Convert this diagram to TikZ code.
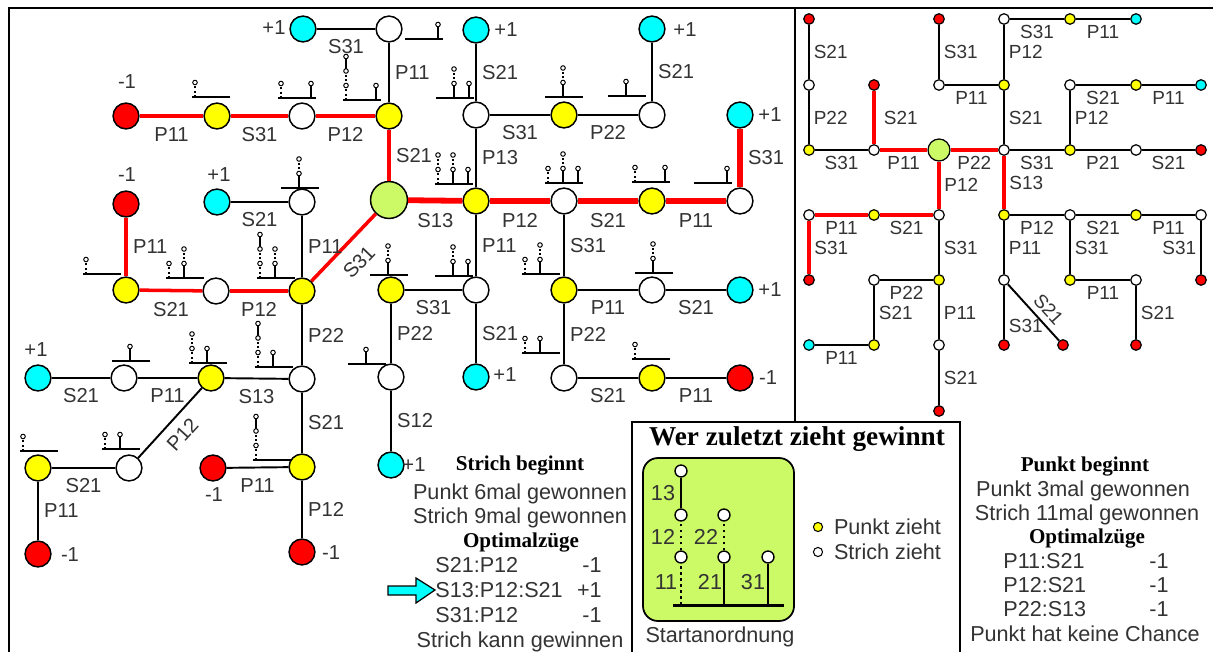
\documentclass[tikz,border=0pt]{standalone}
\usepackage{fontspec}
\setmainfont{Liberation Sans}
\newfontfamily\timesfont{Liberation Serif}
\usetikzlibrary{positioning}

\definecolor{rot}{RGB}{255,0,0}
\definecolor{gelb}{RGB}{255,255,0}
\definecolor{tuerkis}{RGB}{0,255,255}
\definecolor{hellgruen}{RGB}{204,250,102}
\definecolor{schrift}{RGB}{51,51,51}

\tikzset{
  kn/.style={circle, draw=black, line width=0.85pt, minimum size=14.7pt, inner sep=0pt},
  kw/.style={kn, fill=white}, ky/.style={kn, fill=gelb},
  kr/.style={kn, fill=rot}, kc/.style={kn, fill=tuerkis},
  kg/.style={kn, fill=hellgruen, minimum size=21pt},
  pn/.style={circle, draw=black, line width=0.7pt, minimum size=6pt, inner sep=0pt},
  pw/.style={pn, fill=white}, py/.style={pn, fill=gelb},
  pr/.style={pn, fill=rot}, pc/.style={pn, fill=tuerkis},
  pg/.style={pn, fill=hellgruen, minimum size=12.5pt},
  kante/.style={line width=1.1pt},
  rotkante/.style={draw=rot, line width=2pt},
  rotdick/.style={draw=rot, line width=3.3pt},
  pk/.style={line width=1.1pt},
  prot/.style={draw=rot, line width=1.8pt},
  lab/.style={font=\fontsize{11.5}{13}\selectfont, text=schrift, inner sep=1.5pt},
  lu/.style={lab, below=4pt}, lr/.style={lab, right=1.5pt},
  slab/.style={font=\fontsize{10.8}{12}\selectfont, text=schrift, inner sep=1.2pt},
  su/.style={slab, below=1.7pt}, sr/.style={slab, right=1pt}, sl/.style={slab, left=1pt},
  txt/.style={font=\fontsize{12.3}{14}\selectfont, text=schrift, inner sep=0pt},
  titel/.style={font=\timesfont\bfseries\fontsize{12}{14}\selectfont, inner sep=0pt},
  basis/.style={line width=1.4pt},
  strich/.style={line width=0.75pt},
  punkt/.style={line width=1pt, dash pattern=on 1pt off 1.5pt},
  knopf/.style={draw=black, fill=white, line width=0.55pt},
  rahmen/.style={line width=1.5pt}
}

% base left end at (#1,#2); pieces left in columns 1, 2, 3
\newcommand{\stellung}[5]{%
  \begin{scope}[shift={(#1,#2)}]
    \ifnum#3>0 \draw[punkt] (3,0) -- (3,-14.5); \fi
    \ifnum#3>1 \draw[punkt] (3,-14.5) -- (3,-29); \fi
    \ifnum#3>2 \draw[strich] (3,-29) -- (3,-43.5); \fi
    \ifnum#4>0 \draw[strich] (18,0) -- (18,-14.5); \fi
    \ifnum#4>1 \draw[punkt] (18,-14.5) -- (18,-29); \fi
    \ifnum#5>0 \draw[strich] (33,0) -- (33,-14.5); \fi
    \draw[basis] (0,0) -- (38,0);
    \ifnum#3>0 \draw[knopf] (3,-14.5) circle[radius=1.3pt]; \fi
    \ifnum#3>1 \draw[knopf] (3,-29) circle[radius=1.3pt]; \fi
    \ifnum#3>2 \draw[knopf] (3,-43.5) circle[radius=1.3pt]; \fi
    \ifnum#4>0 \draw[knopf] (18,-14.5) circle[radius=1.3pt]; \fi
    \ifnum#4>1 \draw[knopf] (18,-29) circle[radius=1.3pt]; \fi
    \ifnum#5>0 \draw[knopf] (33,-14.5) circle[radius=1.3pt]; \fi
  \end{scope}}

\begin{document}
\begin{tikzpicture}[x=0.02cm, y=-0.02cm]
\useasboundingbox (0,0) rectangle (1213,652);
\draw[rahmen] (9,652) -- (9,8) -- (1213,8);
\draw[rahmen] (795,8) -- (795,422);

% left tree
\node[kg] (g0) at (389,200) {};
\node[ky] (y1) at (389,116) {};
\node[kw] (w1) at (302,116) {};
\node[ky] (y2) at (217,116) {};
\node[kr] (r1) at (126,116) {};
\node[kw] (w2) at (389,29) {};
\node[kc] (c1) at (303,29) {};
\node[kw] (w3) at (302,202) {};
\node[kc] (c2) at (217,202) {};
\node[kr] (r2) at (126,204) {};
\node[ky] (y3) at (302,291) {};
\node[kw] (w4) at (216,291) {};
\node[ky] (y4) at (126,290) {};
\node[kw] (w5) at (302,379) {};
\node[ky] (y5) at (211,378) {};
\node[kw] (w6) at (124,378) {};
\node[kc] (c3) at (38,378) {};
\node[kw] (w7) at (129,468) {};
\node[ky] (y6) at (38,468) {};
\node[kr] (r3) at (38,554) {};
\node[ky] (y7) at (302,467) {};
\node[kr] (r4) at (213,468) {};
\node[kr] (r5) at (302,552) {};
\node[ky] (y8) at (476,201) {};
\node[kw] (w8) at (476,115) {};
\node[kc] (c4) at (476,30) {};
\node[ky] (y9) at (564,115) {};
\node[kw] (w9) at (652,115) {};
\node[kc] (c5) at (652,29) {};
\node[kw] (w10) at (564,201) {};
\node[ky] (y10) at (652,201) {};
\node[kw] (w11) at (740,201) {};
\node[kc] (c6) at (740,115) {};
\node[kw] (w12) at (476,290) {};
\node[kc] (c7) at (476,377) {};
\node[ky] (y11) at (391,290) {};
\node[kw] (w13) at (391,377) {};
\node[kc] (c8) at (391,465) {};
\node[ky] (y12) at (564,290) {};
\node[kw] (w14) at (652,290) {};
\node[kc] (c9) at (740,290) {};
\node[kw] (w15) at (564,378) {};
\node[ky] (y13) at (652,378) {};
\node[kr] (r6) at (740,378) {};

\draw[rotkante] (r1) -- node[lu] {P11} (y2);
\draw[rotkante] (y2) -- node[lu] {S31} (w1);
\draw[rotkante] (w1) -- node[lu] {P12} (y1);
\draw[rotkante] (y1) -- node[lr] {S21} (g0);
\draw[rotkante] (r2) -- node[lr] {P11} (y4);
\draw[rotkante] (y4) -- node[lu] {S21} (w4);
\draw[rotkante] (w4) -- node[lu] {P12} (y3);
\draw[rotkante] (y3) -- node[lab, sloped, below=5.5pt] {S31} (g0);
\draw[rotdick] (g0) -- node[lu] {S13} (y8);
\draw[rotdick] (y8) -- node[lu] {P12} (w10);
\draw[rotdick] (w10) -- node[lu] {S21} (y10);
\draw[rotdick] (y10) -- node[lu] {P11} (w11);
\draw[rotdick] (w11) -- node[lr] {S31} (c6);
\draw[kante] (c1) -- node[lu] {S31} (w2);
\draw[kante] (w2) -- node[lr] {P11} (y1);
\draw[kante] (c2) -- node[lu] {S21} (w3);
\draw[kante] (w3) -- node[lr] {P11} (y3);
\draw[kante] (y3) -- node[lr] {P22} (w5);
\draw[kante] (c3) -- node[lu] {S21} (w6);
\draw[kante] (w6) -- node[lu] {P11} (y5);
\draw[kante] (y5) -- node[lu] {S13} (w5);
\draw[kante] (w7) -- node[lab, sloped, below=3.5pt] {P12} (y5);
\draw[kante] (y6) -- node[lu] {S21} (w7);
\draw[kante] (y6) -- node[lr] {P11} (r3);
\draw[kante] (w5) -- node[lr] {S21} (y7);
\draw[kante] (r4) -- node[lu] {P11} (y7);
\draw[kante] (y7) -- node[lr] {P12} (r5);
\draw[kante] (c4) -- node[lr] {S21} (w8);
\draw[kante] (w8) -- node[lr] {P13} (y8);
\draw[kante] (w8) -- node[lu] {S31} (y9);
\draw[kante] (y9) -- node[lu] {P22} (w9);
\draw[kante] (c5) -- node[lr] {S21} (w9);
\draw[kante] (y8) -- node[lr] {P11} (w12);
\draw[kante] (y11) -- node[lu] {S31} (w12);
\draw[kante] (w12) -- node[lr] {S21} (c7);
\draw[kante] (y11) -- node[lr] {P22} (w13);
\draw[kante] (w13) -- node[lr] {S12} (c8);
\draw[kante] (w10) -- node[lr] {S31} (y12);
\draw[kante] (y12) -- node[lu] {P11} (w14);
\draw[kante] (w14) -- node[lu] {S21} (c9);
\draw[kante] (y12) -- node[lr] {P22} (w15);
\draw[kante] (w15) -- node[lu] {S21} (y13);
\draw[kante] (y13) -- node[lu] {P11} (r6);

\node[lab] (e1) at (274,28) {+1};
\node[lab] (e2) at (127,82) {-1};
\node[lab] (e3) at (127,175) {-1};
\node[lab] (e4) at (219,175) {+1};
\node[lab] (e5) at (36,350) {+1};
\node[lab] (e6) at (214,495) {-1};
\node[lab] (e7) at (70,555) {-1};
\node[lab] (e8) at (331,553) {-1};
\node[lab] (e9) at (506,30) {+1};
\node[lab] (e10) at (685,30) {+1};
\node[lab] (e11) at (770,115) {+1};
\node[lab] (e12) at (770,290) {+1};
\node[lab] (e13) at (505,375) {+1};
\node[lab] (e14) at (768,378) {-1};
\node[lab] (e15) at (414,465) {+1};

\stellung{192}{97}{1}{0}{0}
\stellung{278}{98}{1}{0}{1}
\stellung{343}{100}{3}{0}{1}
\stellung{405}{39}{0}{0}{1}
\stellung{281}{188}{0}{2}{0}
\stellung{83}{274}{1}{0}{0}
\stellung{166}{278}{1}{2}{0}
\stellung{257}{278}{3}{2}{0}
\stellung{112}{361}{0}{1}{0}
\stellung{189}{363}{2}{1}{0}
\stellung{255}{367}{3}{1}{0}
\stellung{253}{460}{3}{0}{0}
\stellung{20}{451}{1}{0}{0}
\stellung{102}{449}{1}{1}{0}
\stellung{436}{98}{0}{2}{1}
\stellung{435}{184}{2}{2}{1}
\stellung{545}{97}{0}{2}{0}
\stellung{608}{96}{0}{1}{0}
\stellung{545}{183}{1}{2}{1}
\stellung{632}{182}{1}{0}{1}
\stellung{694}{183}{0}{0}{1}
\stellung{370}{275}{0}{2}{0}
\stellung{435}{276}{0}{2}{1}
\stellung{348}{364}{0}{1}{0}
\stellung{522}{274}{1}{2}{0}
\stellung{635}{273}{0}{2}{0}
\stellung{522}{353}{1}{1}{0}
\stellung{632}{359}{1}{0}{0}

% right tree
\node[pr] (br1) at (809,19) {};
\node[pr] (br3) at (939,19) {};
\node[pw] (bw6) at (1004,19) {};
\node[py] (by4) at (1070,19) {};
\node[pc] (bc1) at (1136,19) {};
\node[pw] (bw1) at (809,85) {};
\node[pr] (br2) at (874,85) {};
\node[pw] (bw5) at (939,85) {};
\node[py] (by3) at (1004,85) {};
\node[pw] (bw7) at (1070,85) {};
\node[py] (by6) at (1136,85) {};
\node[pc] (bc2) at (1201,85) {};
\node[py] (by1) at (809,150) {};
\node[pw] (bw2) at (874,150) {};
\node[pg] (bg) at (939,150) {};
\node[pw] (bw3) at (1004,150) {};
\node[py] (by5) at (1070,150) {};
\node[pw] (bw8) at (1136,150) {};
\node[pr] (br4) at (1201,150) {};
\node[pw] (bw9) at (809,215) {};
\node[py] (by7) at (874,215) {};
\node[pw] (bw4) at (939,215) {};
\node[py] (by2) at (1004,215) {};
\node[pw] (bw12) at (1070,215) {};
\node[py] (by10) at (1136,215) {};
\node[pw] (bw13) at (1201,215) {};
\node[pr] (br5) at (809,280) {};
\node[pw] (bw10) at (874,280) {};
\node[py] (by8) at (939,280) {};
\node[pw] (bw14) at (1004,280) {};
\node[py] (by11) at (1070,280) {};
\node[pw] (bw15) at (1136,280) {};
\node[pr] (br7) at (1201,280) {};
\node[pc] (bc3) at (809,345) {};
\node[py] (by9) at (874,345) {};
\node[pw] (bw11) at (939,345) {};
\node[pr] (br8) at (1004,345) {};
\node[pr] (br9) at (1063,345) {};
\node[pr] (br10) at (1136,345) {};
\node[pr] (br6) at (939,411) {};

\draw[pk] (br1) -- node[sr] {S21} (bw1);
\draw[pk] (bw1) -- node[sr] {P22} (by1);
\draw[pk] (by1) -- node[su] {S31} (bw2);
\draw[prot] (br2) -- node[sr, xshift=2.5pt] {S21} (bw2);
\draw[prot] (bw2) -- node[su] {P11} (bg);
\draw[prot] (bg) -- node[su] {P22} (bw3);
\draw[prot] (bg) -- node[sr] {P12} (bw4);
\draw[prot] (bw3) -- node[sr] {S13} (by2);
\draw[pk] (br3) -- node[sr] {S31} (bw5);
\draw[pk] (bw5) -- node[su] {P11} (by3);
\draw[pk] (by3) -- node[sr] {P12} (bw6);
\draw[pk] (bw6) -- node[su] {S31} (by4);
\draw[pk] (by4) -- node[su] {P11} (bc1);
\draw[pk] (by3) -- node[sr] {S21} (bw3);
\draw[pk] (bw3) -- node[su] {S31} (by5);
\draw[pk] (by5) -- node[sr] {P12} (bw7);
\draw[pk] (bw7) -- node[su] {S21} (by6);
\draw[pk] (by6) -- node[su] {P11} (bc2);
\draw[pk] (by5) -- node[su] {P21} (bw8);
\draw[pk] (bw8) -- node[su] {S21} (br4);
\draw[prot] (bw9) -- node[su] {P11} (by7);
\draw[prot] (by7) -- node[su] {S21} (bw4);
\draw[prot] (bw9) -- node[sr] {S31} (br5);
\draw[pk] (bw4) -- node[sr] {S31} (by8);
\draw[pk] (by8) -- node[su] {P22} (bw10);
\draw[pk] (bw10) -- node[sr] {S21} (by9);
\draw[pk] (by9) -- node[su] {P11} (bc3);
\draw[pk] (by8) -- node[sr] {P11} (bw11);
\draw[pk] (bw11) -- node[sr] {S21} (br6);
\draw[pk] (by2) -- node[su] {P12} (bw12);
\draw[pk] (bw12) -- node[su] {S21} (by10);
\draw[pk] (by10) -- node[su] {P11} (bw13);
\draw[pk] (bw13) -- node[sl] {S31} (br7);
\draw[pk] (by2) -- node[sr] {P11} (bw14);
\draw[pk] (bw14) -- node[sr, pos=0.75] {S31} (br8);
\draw[pk] (bw14) -- node[slab, sloped, above=2pt, pos=0.6] {S21} (br9);
\draw[pk] (bw12) -- node[sr] {S31} (by11);
\draw[pk] (by11) -- node[su] {P11} (bw15);
\draw[pk] (bw15) -- node[sr] {S21} (br10);

% results, left
\node[titel] (sb) at (520,466) {Strich beginnt};
\node[txt] (s1) at (520,494) {Punkt 6mal gewonnen};
\node[txt] (s2) at (520,518) {Strich 9mal gewonnen};
\node[titel] (s3) at (521,543) {Optimalzüge};
\node[txt, anchor=west] (s4) at (435,565) {S21:P12};
\node[txt, anchor=east] (s4w) at (602,565) {-1};
\node[txt, anchor=west] (s5) at (435,590) {S13:P12:S21};
\node[txt, anchor=east] (s5w) at (602,590) {+1};
\node[txt, anchor=west] (s6) at (435,615) {S31:P12};
\node[txt, anchor=east] (s6w) at (602,615) {-1};
\node[txt] (s7) at (520,642) {Strich kann gewinnen};
\draw[fill=tuerkis, line width=0.7pt] (388,586) -- (416,586) -- (416,578)
  -- (s5.west) -- (416,603) -- (416,595) -- (388,595) -- cycle;

% results, right
\node[titel] (pb) at (1085,467) {Punkt beginnt};
\node[txt] (p1) at (1083,491) {Punkt 3mal gewonnen};
\node[txt] (p2) at (1087,515) {Strich 11mal gewonnen};
\node[titel] (p3) at (1087,539) {Optimalzüge};
\node[txt, anchor=west] (p4) at (1003,561) {P11:S21};
\node[txt, anchor=east] (p4w) at (1169,561) {-1};
\node[txt, anchor=west] (p5) at (1003,585) {P12:S21};
\node[txt, anchor=east] (p5w) at (1169,585) {-1};
\node[txt, anchor=west] (p6) at (1003,609) {P22:S13};
\node[txt, anchor=east] (p6w) at (1169,609) {-1};
\node[txt] (p7) at (1085,634) {Punkt hat keine Chance};

% legend box
\draw[line width=1.1pt] (632,652) -- (632,422) -- (960,422) -- (960,652);
\node[font=\timesfont\bfseries\fontsize{15.5}{18}\selectfont, inner sep=0pt] (wz) at (797,439) {Wer zuletzt zieht gewinnt};
\draw[fill=hellgruen, line width=1pt, rounded corners=8.5pt] (643,458) rectangle (794,621);
\coordinate (b1) at (681,605);
\coordinate (b2) at (724,605);
\coordinate (b3) at (768,605);
\node[circle, draw, fill=white, line width=0.8pt, minimum size=6.8pt, inner sep=0pt] (g11) at (681,557) {};
\node[circle, draw, fill=white, line width=0.8pt, minimum size=6.8pt, inner sep=0pt] (g12) at (681,515) {};
\node[circle, draw, fill=white, line width=0.8pt, minimum size=6.8pt, inner sep=0pt] (g13) at (681,471) {};
\node[circle, draw, fill=white, line width=0.8pt, minimum size=6.8pt, inner sep=0pt] (g21) at (724,557) {};
\node[circle, draw, fill=white, line width=0.8pt, minimum size=6.8pt, inner sep=0pt] (g22) at (724,515) {};
\node[circle, draw, fill=white, line width=0.8pt, minimum size=6.8pt, inner sep=0pt] (g31) at (768,557) {};
\draw[line width=1.6pt, dash pattern=on 1.6pt off 1.8pt] (b1) -- (g11);
\draw[line width=1.6pt, dash pattern=on 1.6pt off 1.8pt] (g11) -- (g12);
\draw[line width=1.1pt] (g12) -- (g13);
\draw[line width=1.1pt] (b2) -- (g21);
\draw[line width=1.6pt, dash pattern=on 1.6pt off 1.8pt] (g21) -- (g22);
\draw[line width=1.1pt] (b3) -- (g31);
\draw[line width=1.7pt] (673,605) -- (784,605);
\node[txt] (n13) at (663,493) {13};
\node[txt] (n12) at (663,537) {12};
\node[txt] (n22) at (706,537) {22};
\node[txt] (n11) at (666,582) {11};
\node[txt] (n21) at (710,582) {21};
\node[txt] (n31) at (753,582) {31};
\node[txt] (sa) at (720,637) {Startanordnung};
\node[circle, draw, fill=gelb, line width=0.6pt, minimum size=5.2pt, inner sep=0pt] (lp) at (818,527) {};
\node[circle, draw, fill=white, line width=0.6pt, minimum size=5.2pt, inner sep=0pt] (ls) at (818,552) {};
\node[txt, right=6pt of lp] (lpt) {Punkt zieht};
\node[txt, right=6pt of ls] (lst) {Strich zieht};
\end{tikzpicture}
\end{document}
